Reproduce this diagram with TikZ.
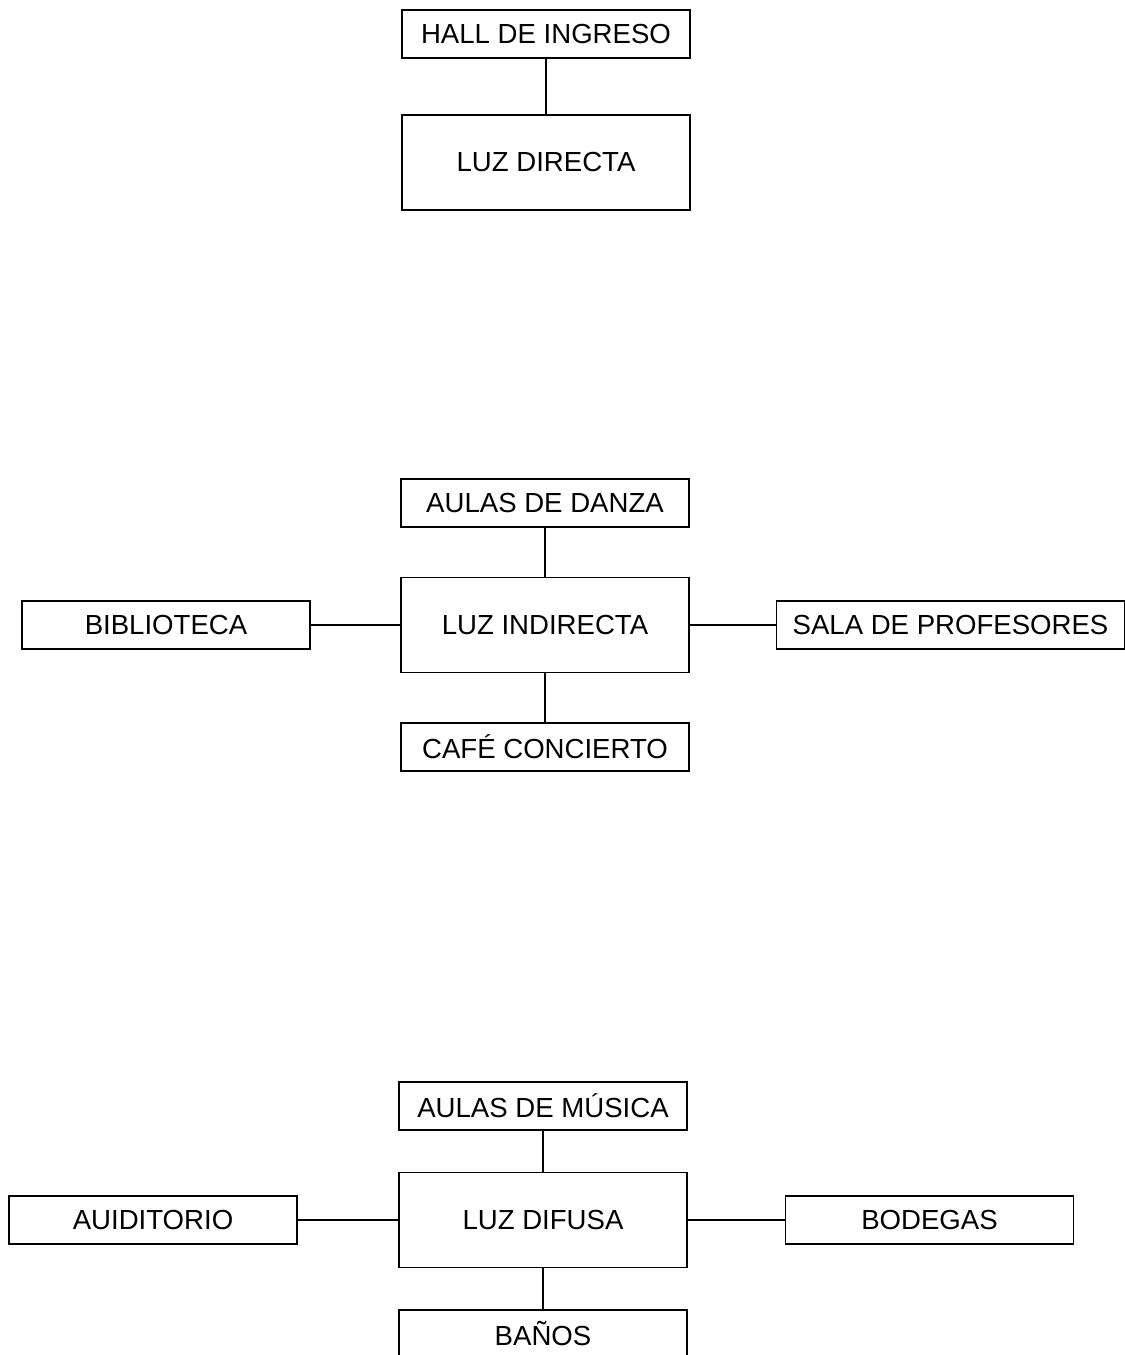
\documentclass[tikz,border=0pt]{standalone}
\usepackage{fontspec}
\setmainfont{Liberation Sans}
\usepackage{tikz}

\begin{document}
\begin{tikzpicture}[x=0.02cm,y=-0.02cm]
        \tikzstyle{every node}=[draw,line width=1pt,shape=rectangle,font=\fontsize{15.7}{18}\selectfont,inner sep=0pt]
        \tikzstyle{sala}=[minimum width=5.76cm,minimum height=0.96cm]
        \tikzstyle{luz}=[minimum width=5.76cm,minimum height=1.9cm]
        \useasboundingbox (0,0) rectangle (1125,1355);
            % luz directa
            \node[sala] (hall) at (546,34) {HALL DE INGRESO};
            \node[luz] (directa) at (546,162.5) {LUZ DIRECTA};

            % luz indirecta
            \node[sala] (danza) at (545,503) {AULAS DE DANZA};
            \node[luz] (indirecta) at (545,625) {LUZ INDIRECTA};
            \node[sala] (biblio) at (166,625) {BIBLIOTECA};
            \node[sala,minimum width=6.96cm] (profes) at (950.5,625) {SALA DE PROFESORES};
            \node[sala] (cafe) at (545,747) {CAFÉ CONCIERTO};

            % luz difusa
            \node[sala] (musica) at (543,1106) {AULAS DE MÚSICA};
            \node[luz] (difusa) at (543,1220) {LUZ DIFUSA};
            \node[sala] (audi) at (153,1220) {AUIDITORIO};
            \node[sala] (bodegas) at (929.5,1220) {BODEGAS};
            \node[sala] (banos) at (543,1334) {BAÑOS};

            \draw[line width=1pt] (hall) -- (directa)
            (danza) -- (indirecta)
            (biblio) -- (indirecta)
            (indirecta) -- (profes)
            (indirecta) -- (cafe)
            (musica) -- (difusa)
            (audi) -- (difusa)
            (difusa) -- (bodegas)
            (difusa) -- (banos);
        \end{tikzpicture}
\end{document}
